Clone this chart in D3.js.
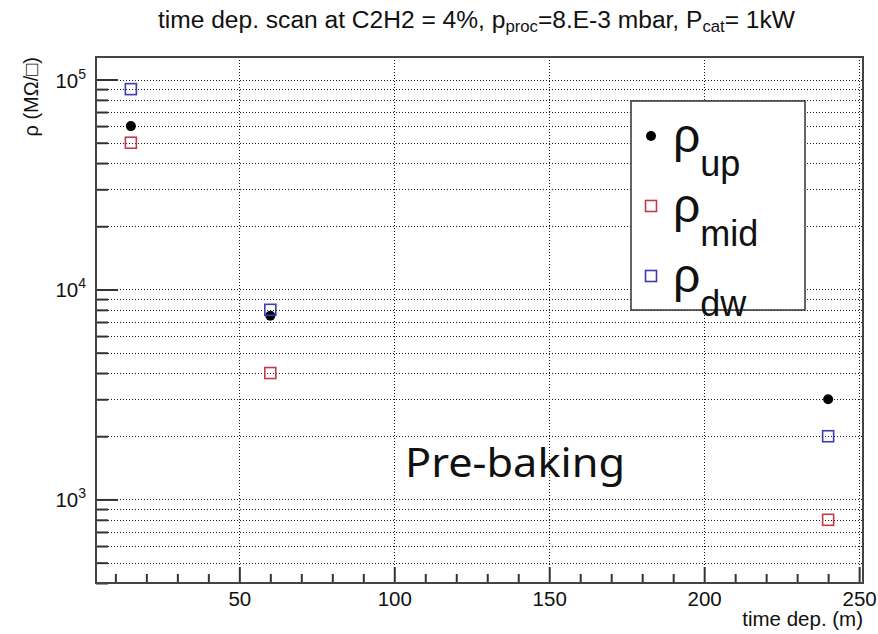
<!DOCTYPE html>
<html><head><meta charset="utf-8">
<script src="https://cdn.jsdelivr.net/npm/d3@7"></script>
<style>body{margin:0;background:#fff} svg{display:block}</style>
</head><body><svg id="c" width="878" height="634"></svg>
<script>
// ---- data ----
const timeDep = [15, 60, 240];
const rhoUp  = [60000, 7500, 3000];
const rhoMid = [50000, 4000, 800];
const rhoDw  = [90000, 8000, 2000];
const xTickValues = [50, 100, 150, 200, 250];
const yDecades = [1000, 10000, 100000];
const yDecadeExp = ["3", "4", "5"];
const seriesNames = ["up", "mid", "dw"];

// ---- layout ----
const m = {l: 96, r: 863, t: 57, b: 583};
const FONT = '"Liberation Sans", Arial, Helvetica, sans-serif';
const svg = d3.select("#c");
const x = d3.scaleLinear().domain([3.75, 251.25]).range([m.l, m.r]);
const y = d3.scaleLog().domain([400, 128000]).range([m.b, m.t]);

const yAll = [];
for (let e = 2; e <= 5; e++) for (let k = 1; k <= 9; k++) {
  const v = k * Math.pow(10, e);
  if (v >= 400 && v <= 128000) yAll.push(v);
}
const xMinor = d3.range(10, 251, 10).filter(v => v % 50 !== 0);

// ---- grid ----
const grid = svg.append("g").attr("stroke", "#1a1a1a").attr("stroke-width", 1).attr("stroke-dasharray", "1,2");
grid.selectAll("line.h").data(yAll).join("line").attr("class", "h")
  .attr("x1", m.l).attr("x2", m.r)
  .attr("y1", d => Math.round(y(d)) + 0.5).attr("y2", d => Math.round(y(d)) + 0.5);
grid.selectAll("line.v").data(xTickValues).join("line").attr("class", "v")
  .attr("y1", m.t).attr("y2", m.b)
  .attr("x1", d => Math.round(x(d)) + 0.5).attr("x2", d => Math.round(x(d)) + 0.5);

// ---- axes ----
function styleAxis(g) {
  g.select(".domain").remove();
  g.selectAll(".tick line").attr("stroke", "#333").attr("stroke-width", 2);
}
svg.append("g").attr("transform", `translate(${m.l},0)`)
  .call(d3.axisLeft(y).tickValues(yAll.filter(v => !yDecades.includes(v))).tickSize(-12).tickFormat(""))
  .call(styleAxis);
svg.append("g").attr("transform", `translate(${m.l},0)`)
  .call(d3.axisLeft(y).tickValues(yDecades).tickSize(-22).tickFormat(""))
  .call(styleAxis);
svg.append("g").attr("transform", `translate(0,${m.b})`)
  .call(d3.axisBottom(x).tickValues(xMinor).tickSize(-9).tickFormat(""))
  .call(styleAxis);
const xb = svg.append("g").attr("transform", `translate(0,${m.b})`)
  .call(d3.axisBottom(x).tickValues(xTickValues).tickSize(-16).tickPadding(8).tickFormat(d3.format("d")))
  .call(styleAxis);
xb.selectAll(".tick text").attr("font-family", FONT).attr("font-size", 20.5).attr("fill", "#111");

// y labels 10^n
const yl = svg.append("g").attr("font-family", FONT).attr("fill", "#111");
yDecades.forEach((d, i) => {
  const t = yl.append("text").attr("x", 86).attr("y", y(d) + 8).attr("text-anchor", "end").attr("font-size", 20.5);
  t.append("tspan").text("10");
  t.append("tspan").attr("dy", -9).attr("font-size", 14).text(yDecadeExp[i]);
});

// frame
svg.append("rect").attr("x", m.l).attr("y", m.t).attr("width", m.r - m.l).attr("height", m.b - m.t)
  .attr("fill", "none").attr("stroke", "#444").attr("stroke-width", 2);

// ---- titles ----
const title = svg.append("text").attr("x", 158).attr("y", 28).attr("font-family", FONT).attr("font-size", 23.5)
  .attr("fill", "#111").attr("textLength", 637).attr("lengthAdjust", "spacingAndGlyphs");
title.append("tspan").text("time dep. scan at C2H2 = 4%, p");
title.append("tspan").attr("dy", 4).attr("font-size", 16).text("proc");
title.append("tspan").attr("dy", -4).text("=8.E-3 mbar, P");
title.append("tspan").attr("dy", 4).attr("font-size", 16).text("cat");
title.append("tspan").attr("dy", -4).text("= 1kW");

svg.append("text").attr("x", m.r).attr("y", 626).attr("text-anchor", "end")
  .attr("font-family", FONT).attr("font-size", 20.5).attr("fill", "#111").text("time dep. (m)");

svg.append("text").attr("transform", `translate(38,${m.t}) rotate(-90)`).attr("text-anchor", "end")
  .attr("font-family", FONT).attr("font-size", 20).attr("fill", "#111").text("ρ (MΩ/□)");

// ---- data marks ----
const colors = {up: "#000", mid: "#c23b4a", dw: "#3b3bb3"};
const seriesVals = {up: rhoUp, mid: rhoMid, dw: rhoDw};
const marks = svg.append("g");
marks.selectAll("circle").data(timeDep.map((t, i) => [t, rhoUp[i]])).join("circle")
  .attr("cx", d => x(d[0])).attr("cy", d => y(d[1])).attr("r", 5).attr("fill", colors.up);
["mid", "dw"].forEach(s => {
  marks.append("g").selectAll("rect").data(timeDep.map((t, i) => [t, seriesVals[s][i]])).join("rect")
    .attr("x", d => x(d[0]) - 5.5).attr("y", d => y(d[1]) - 5.5).attr("width", 11).attr("height", 11)
    .attr("fill", "none").attr("stroke", colors[s]).attr("stroke-width", 1.6);
});

// ---- legend ----
const lg = svg.append("g");
lg.append("rect").attr("x", 631).attr("y", 101).attr("width", 174).attr("height", 209)
  .attr("fill", "#fff").attr("stroke", "#333").attr("stroke-width", 1.5);
const rowY = [152, 222, 292];
seriesNames.forEach((s, i) => {
  const cy = rowY[i] - 16;
  if (s === "up") lg.append("circle").attr("cx", 651).attr("cy", cy).attr("r", 5).attr("fill", colors.up);
  else lg.append("rect").attr("x", 645.5).attr("y", cy - 5.5).attr("width", 11).attr("height", 11)
    .attr("fill", "none").attr("stroke", colors[s]).attr("stroke-width", 1.6);
  const t = lg.append("text").attr("x", 673).attr("y", rowY[i]).attr("font-family", FONT).attr("font-size", 48).attr("fill", "#111");
  t.append("tspan").text("ρ");
  t.append("tspan").attr("dy", 24).attr("font-size", 36).text(s);
});

// annotation
svg.append("text").attr("x", 405).attr("y", 477).attr("font-family", '"Noto Sans", sans-serif')
  .attr("font-size", 40).attr("textLength", 220).attr("lengthAdjust", "spacingAndGlyphs")
  .attr("fill", "#111").text("Pre-baking");
</script></body></html>
